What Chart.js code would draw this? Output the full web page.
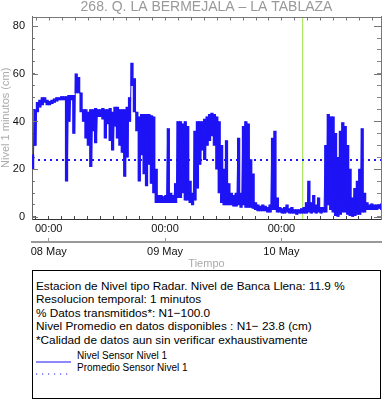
<!DOCTYPE html>
<html><head><meta charset="utf-8">
<script src="https://cdn.jsdelivr.net/npm/chart.js@4"></script>
<style>
html,body{margin:0;padding:0;background:#fff;width:382px;height:404px;overflow:hidden;font-family:'Liberation Sans',Arial,Helvetica,sans-serif;}
#wrap{position:absolute;left:0;top:0;width:382px;height:270px;}
#info{position:absolute;left:32px;top:270px;width:347px;height:127px;border:1px solid #000;color:#000;}
#info .l{position:absolute;left:3px;font-size:11.8px;line-height:13px;white-space:nowrap;}
#info .s{position:absolute;left:44px;font-size:10px;line-height:12px;white-space:nowrap;}
#info svg{position:absolute;left:3px;}
</style>
</head><body>
<div id="wrap"><canvas id="c" width="382" height="270"></canvas></div>
<div id="info">
  <div class="l" style="top:8.5px">Estacion de Nivel tipo Radar. Nivel de Banca Llena: 11.9 %</div>
  <div class="l" style="top:22px">Resolucion temporal: 1 minutos</div>
  <div class="l" style="top:35.5px">% Datos transmitidos*: N1&#8722;100.0</div>
  <div class="l" style="top:49px">Nivel Promedio en datos disponibles : N1&#8722; 23.8 (cm)</div>
  <div class="l" style="top:62.5px">*Calidad de datos aun sin verificar exhaustivamente</div>
  <svg style="top:89px" width="36" height="4"><line x1="0" y1="2" x2="35" y2="2" stroke="#1e14f5" stroke-width="1.2"/></svg>
  <div class="s" style="top:78.5px">Nivel Sensor Nivel 1</div>
  <svg style="top:101px" width="36" height="4"><line x1="0" y1="2" x2="36" y2="2" stroke="#1e14f5" stroke-width="1.2" stroke-dasharray="1.2 4.8"/></svg>
  <div class="s" style="top:91px">Promedio Sensor Nivel 1</div>
</div>
<script>
// ---- data (hours relative to 08 May 00:00) ----
const horaInicioDatos = -3.45;   // first sample
const pasoHoras = 0.5;           // sample step (hours)
// per-sample max / min of the 1-minute level (cm)
const nivelMax = [
26,45,48,49,50,50,49,48.5,49,49.5,
50,50,50.5,50.5,50.5,51,51,51,60,58.5,
52,45,45,44,45,45,45.5,45,45,45.5,
45,45,45.5,44,46,46,45,45,45,46,
50,64.5,58,44,42,43,43,43,43,42.5,
42,20,9,9,8.5,9,37,10,9,14,
40,40,39,40,38,15,10,36,40,40,
40,41,42,43,43.5,43,42,40,30,20,
32,14,10,9,10,33,10,38,40,39,
24,18,6,5,4.5,5,4.5,4,5,33,
36,8,4,3.5,4,5,3.5,4,3,3,
3,3.5,4,6,15,6,9,5,8,4,
4,30,43,42,42,35,25,36,39.5,38,
30,20,8,12,15,20,37,10,6,5,
5.5,5,5,5,5.5
];
const nivelMin = [
20,30,44,46,47,48,47,47,47.5,48,
48.5,49,49,49,15,40,49,35,52,52,
44,40,33,30,21,36,31,42,42,41,
33,39,32,28,38,33,30,27,17,25,
40,55,44,36,15,26,18,13,22,14,
10,6,6,6,6,6,6,6,6,6,
8,8,10,7,7,6,5,7,12,22,
28,24,30,32,34,30,20,10,6,5,
5,5,5,4.5,4.5,5,4,5,4,4,
4,3.5,3,2.5,2.5,2.5,2.5,2,2,3,
3,2,2,1.5,1.5,2,1.5,1.5,1.5,1,
1.5,1.5,1.5,1.5,2,1.5,2,1.5,2,1.5,
2,2,5,3,2,0.5,0,1,2,2,
1,0.5,0,0.5,1,1,2,2,3,3,
3,3,3,3.5,3
];
const nivelPromedio = 23.8;
const horaMarcador = 52.4;       // green vertical marker (10 May ~04:24)
const etiquetasDias = ['08 May', '09 May', '10 May'];
const horasDias = [0, 24, 48];
const etiquetaHora = '00:00';
const ticksY = [0,5,10,15,20,25,30,35,40,45,50,55,60,65,70,75,80];
const ticksYMayores = [0,20,40,60,80];
const ejeXMin = -3.45, ejeXMax = 68.55;
const ejeYMin = -0.9, ejeYMax = 84;
const tituloGrafico = '268. Q. LA BERMEJALA \u2013 LA TABLAZA';

// ---- build datasets ----
const serie = [], rangos = [];
for (let k = 0; k < nivelMax.length; k++) {
  const t = horaInicioDatos + k * pasoHoras;
  serie.push({x: t, y: nivelMax[k]});
  serie.push({x: t + pasoHoras / 2, y: nivelMin[k]});
  rangos.push({x: t + pasoHoras / 4, y: [nivelMin[k], nivelMax[k]]});
}
const ticksXMenores = [];
for (let k = -1; k <= 25; k++) ticksXMenores.push(k * 24 / 9);

Chart.defaults.font.family = "'Liberation Sans', Arial, Helvetica, sans-serif";
Chart.defaults.font.size = 11;

const AZUL = '#1e14f5';
const setTicks = arr => s => { s.ticks = arr.map(v => ({value: v})); };
const FONT = {size: 11, lineHeight: 1.2};

// mirrored top axis + longer major y ticks, drawn through the chart's own scales
const ejesEspejo = {
  id: 'ejesEspejo',
  afterDraw(chart) {
    const {ctx, chartArea: a, scales} = chart;
    const sx = scales.x, sy = scales.y;
    ctx.save();
    ctx.lineWidth = 1;
    ctx.strokeStyle = '#777';
    ctx.beginPath();
    const top = Math.round(a.top) + 0.5;
    ctx.moveTo(a.left, top); ctx.lineTo(a.right, top);
    ticksXMenores.forEach(v => {
      const px = Math.round(sx.getPixelForValue(v)) + 0.5;
      ctx.moveTo(px, top); ctx.lineTo(px, top + 3);
    });
    ticksYMayores.forEach(v => {
      const py = Math.round(sy.getPixelForValue(v)) + 0.5;
      ctx.moveTo(a.left, py); ctx.lineTo(a.left + 6, py);
      ctx.moveTo(a.right, py); ctx.lineTo(a.right - 7, py);
    });
    ctx.stroke();
    ctx.restore();
  }
};

new Chart(document.getElementById('c'), {
  type: 'line',
  data: {
    datasets: [
      {label: 'marcador', data: [{x: horaMarcador, y: ejeYMin}, {x: horaMarcador, y: ejeYMax}],
       borderColor: '#9be33c', borderWidth: 1, pointRadius: 0, order: 4, xAxisID: 'x', yAxisID: 'y'},
      {type: 'bar', label: 'rango', data: rangos, backgroundColor: AZUL, borderWidth: 0,
       barThickness: 2.6, grouped: false, order: 3, xAxisID: 'x', yAxisID: 'y'},
      {label: 'Nivel Sensor Nivel 1', data: serie, borderColor: AZUL, borderWidth: 1,
       pointRadius: 0, tension: 0, order: 2, xAxisID: 'x', yAxisID: 'y'},
      {label: 'Promedio Sensor Nivel 1', data: [{x: ejeXMin, y: nivelPromedio}, {x: ejeXMax, y: nivelPromedio}],
       borderColor: AZUL, borderWidth: 2, borderDash: [2, 4], pointRadius: 0, order: 1, xAxisID: 'x', yAxisID: 'y'}
    ]
  },
  options: {
    responsive: false, animation: false, devicePixelRatio: 1,
    layout: {padding: 0},
    plugins: {
      legend: {display: false}, tooltip: {enabled: false},
      title: {display: true, text: tituloGrafico, color: '#999', fullSize: false,
              font: {size: 14, weight: 'normal', lineHeight: 1}, padding: {top: 0, bottom: 2}}
    },
    scales: {
      x: {type: 'linear', axis: 'x', position: 'bottom', min: ejeXMin, max: ejeXMax, weight: 0, offset: false,
          afterBuildTicks: setTicks(ticksXMenores),
          ticks: {autoSkip: false, maxRotation: 0, minRotation: 0, padding: 6.5, color: '#111', font: FONT,
                  callback: v => (Math.abs(v % 24) < 1e-6 ? etiquetaHora : '')},
          grid: {offset: false, drawOnChartArea: false, drawTicks: true, tickLength: -3, color: '#444'},
          border: {display: true, color: '#333', width: 1},
          afterFit: s => { s.height = 23; }},
      x2: {type: 'linear', axis: 'x', position: 'bottom', min: ejeXMin, max: ejeXMax, weight: 1, offset: false,
          afterBuildTicks: setTicks(horasDias),
          ticks: {autoSkip: false, maxRotation: 0, minRotation: 0, padding: 7, color: '#111', font: FONT,
                  callback: (v, i) => etiquetasDias[i]},
          grid: {offset: false, drawOnChartArea: false, drawTicks: true, tickLength: -4, color: '#999'},
          border: {display: true, color: '#999', width: 2},
          title: {display: true, text: 'Tiempo', color: '#aaa', font: {size: 11, lineHeight: 1}, padding: {top: 0, bottom: 0.5}},
          afterFit: s => { s.height = 28; }},
      y: {type: 'linear', axis: 'y', position: 'left', min: ejeYMin, max: ejeYMax, weight: 1, beginAtZero: false,
          afterBuildTicks: setTicks(ticksY),
          ticks: {autoSkip: false, padding: 10, color: '#111', font: FONT,
                  callback: v => (ticksYMayores.includes(v) ? String(v) : '')},
          grid: {drawOnChartArea: false, drawTicks: true, tickLength: -3, color: '#777'},
          border: {display: true, color: '#666', width: 1},
          title: {display: true, text: 'Nivel 1 minutos (cm)', color: '#aaa', font: {size: 11, lineHeight: 1}, padding: 0},
          afterFit: s => { s.width = 32; }},
      yDer: {type: 'linear', axis: 'y', position: 'right', min: ejeYMin, max: ejeYMax, weight: 1,
          afterBuildTicks: setTicks(ticksY),
          ticks: {display: false},
          grid: {drawOnChartArea: false, drawTicks: true, tickLength: -4, color: '#888'},
          border: {display: true, color: '#777', width: 1},
          afterFit: s => { s.width = 1; }}
    }
  },
  plugins: [ejesEspejo]
});
</script>
</body></html>
